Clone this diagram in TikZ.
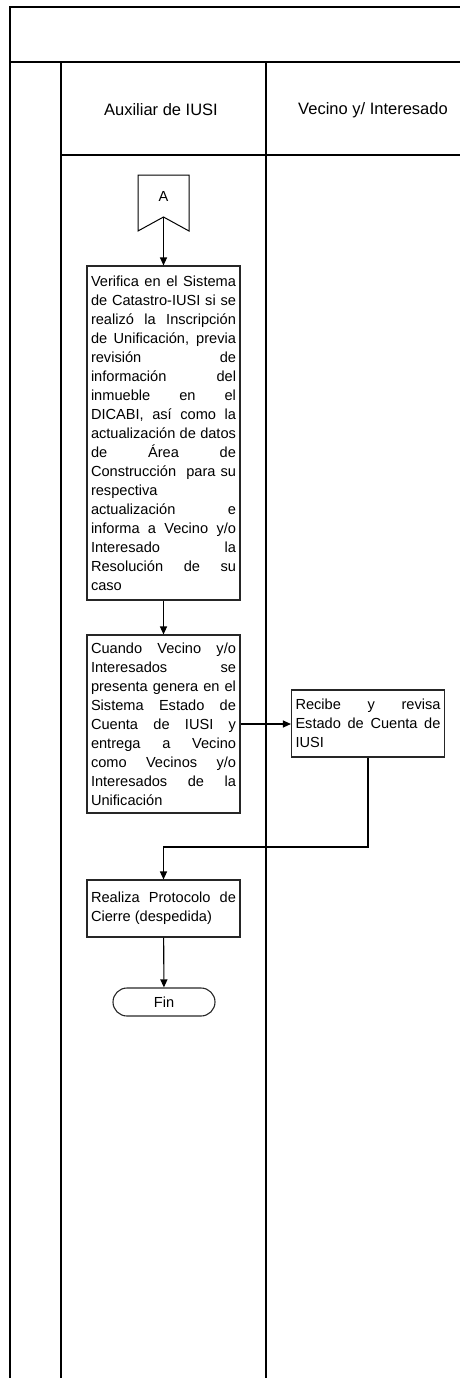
\documentclass[tikz,border=0pt]{standalone}
\usepackage{fontspec}
\setmainfont{Liberation Sans}
\usetikzlibrary{arrows.meta}

\newcommand\boxfont{\fontsize{14.6}{19}\selectfont
  \tolerance=10000 \hyphenpenalty=10000 \exhyphenpenalty=10000\relax}

\tikzset{
  lane/.style={line width=1.6pt, black},
  procbox/.style={draw=black!85, line width=1.1pt, rectangle, text width=145pt,
    inner xsep=4pt, inner ysep=0pt, align=justify, font=\boxfont},
  endbox/.style={draw=black!85, line width=1.1pt, rounded corners=14pt,
    minimum width=102pt, minimum height=28pt, font=\fontsize{14.6}{19}\selectfont},
  headtext/.style={font=\fontsize{16.5}{19}\selectfont},
  flow/.style={line width=1.1pt, -{Triangle[length=8pt,width=7pt]}},
}

\begin{document}
\begin{tikzpicture}[x=1pt, y=-1pt]
    \useasboundingbox (0,0) rectangle (460,1378);

    \draw[lane] (460,7) -- (10,7) -- (10,1378);
    \draw[lane] (10,62) -- (460,62);
    \draw[lane] (61,62) -- (61,1378);
    \draw[lane] (266,62) -- (266,1378);
    \draw[lane] (61,155) -- (460,155);

    \node[headtext] (auxiliar) at (161,110) {Auxiliar de IUSI};
    \node[headtext] (vecino) at (373,110) {Vecino y/ Interesado};

    \coordinate (notchA) at (163.5,217);
    \draw[line width=1pt] (138,175) -- (189,175) -- (189,231) -- (notchA) -- (138,231) -- cycle;
    \node[font=\fontsize{14.6}{19}\selectfont] (offA) at (163.5,196) {A};

    \node[procbox, minimum height=334pt] (verifica) at (163.5,433) {Verifica en el Sistema\linebreak
      de Catastro-IUSI si se\linebreak realizó la Inscripción\linebreak de Unificación, previa\linebreak
      revisión de\linebreak información del\linebreak inmueble en el\linebreak DICABI, así como la\linebreak
      actualización de datos\linebreak de Área de\linebreak Construcción\ \ para su\linebreak respectiva\linebreak
      actualización e\linebreak informa a Vecino y/o\linebreak Interesado la\linebreak Resolución de su\linebreak caso};
    \node[procbox, minimum height=178pt] (genera) at (163.5,724) {Cuando Vecino y/o\linebreak
      Interesados se\linebreak presenta genera en el\linebreak Sistema Estado de\linebreak
      Cuenta de IUSI y\linebreak entrega a Vecino\linebreak como Vecinos y/o\linebreak
      Interesados de la\linebreak Unificación};
    \node[procbox, minimum height=67pt] (recibe) at (368,723.5) {Recibe y revisa\linebreak
      Estado de Cuenta de\linebreak IUSI};
    \node[procbox, minimum height=57pt] (cierre) at (163.5,908.5) {Realiza Protocolo de\linebreak
      Cierre (despedida)};
    \node[endbox] (fin) at (164,1002) {Fin};

    \coordinate (codo) at (163.5,847);
    \draw[flow] (notchA) -- (verifica);
    \draw[flow] (verifica) -- (genera);
    \draw[flow] (genera.east) -- (genera.east -| recibe.west);
    \draw[flow] (recibe.south) |- (codo) -- (cierre.north);
    \draw[flow] (cierre) -- (fin);
\end{tikzpicture}
\end{document}
